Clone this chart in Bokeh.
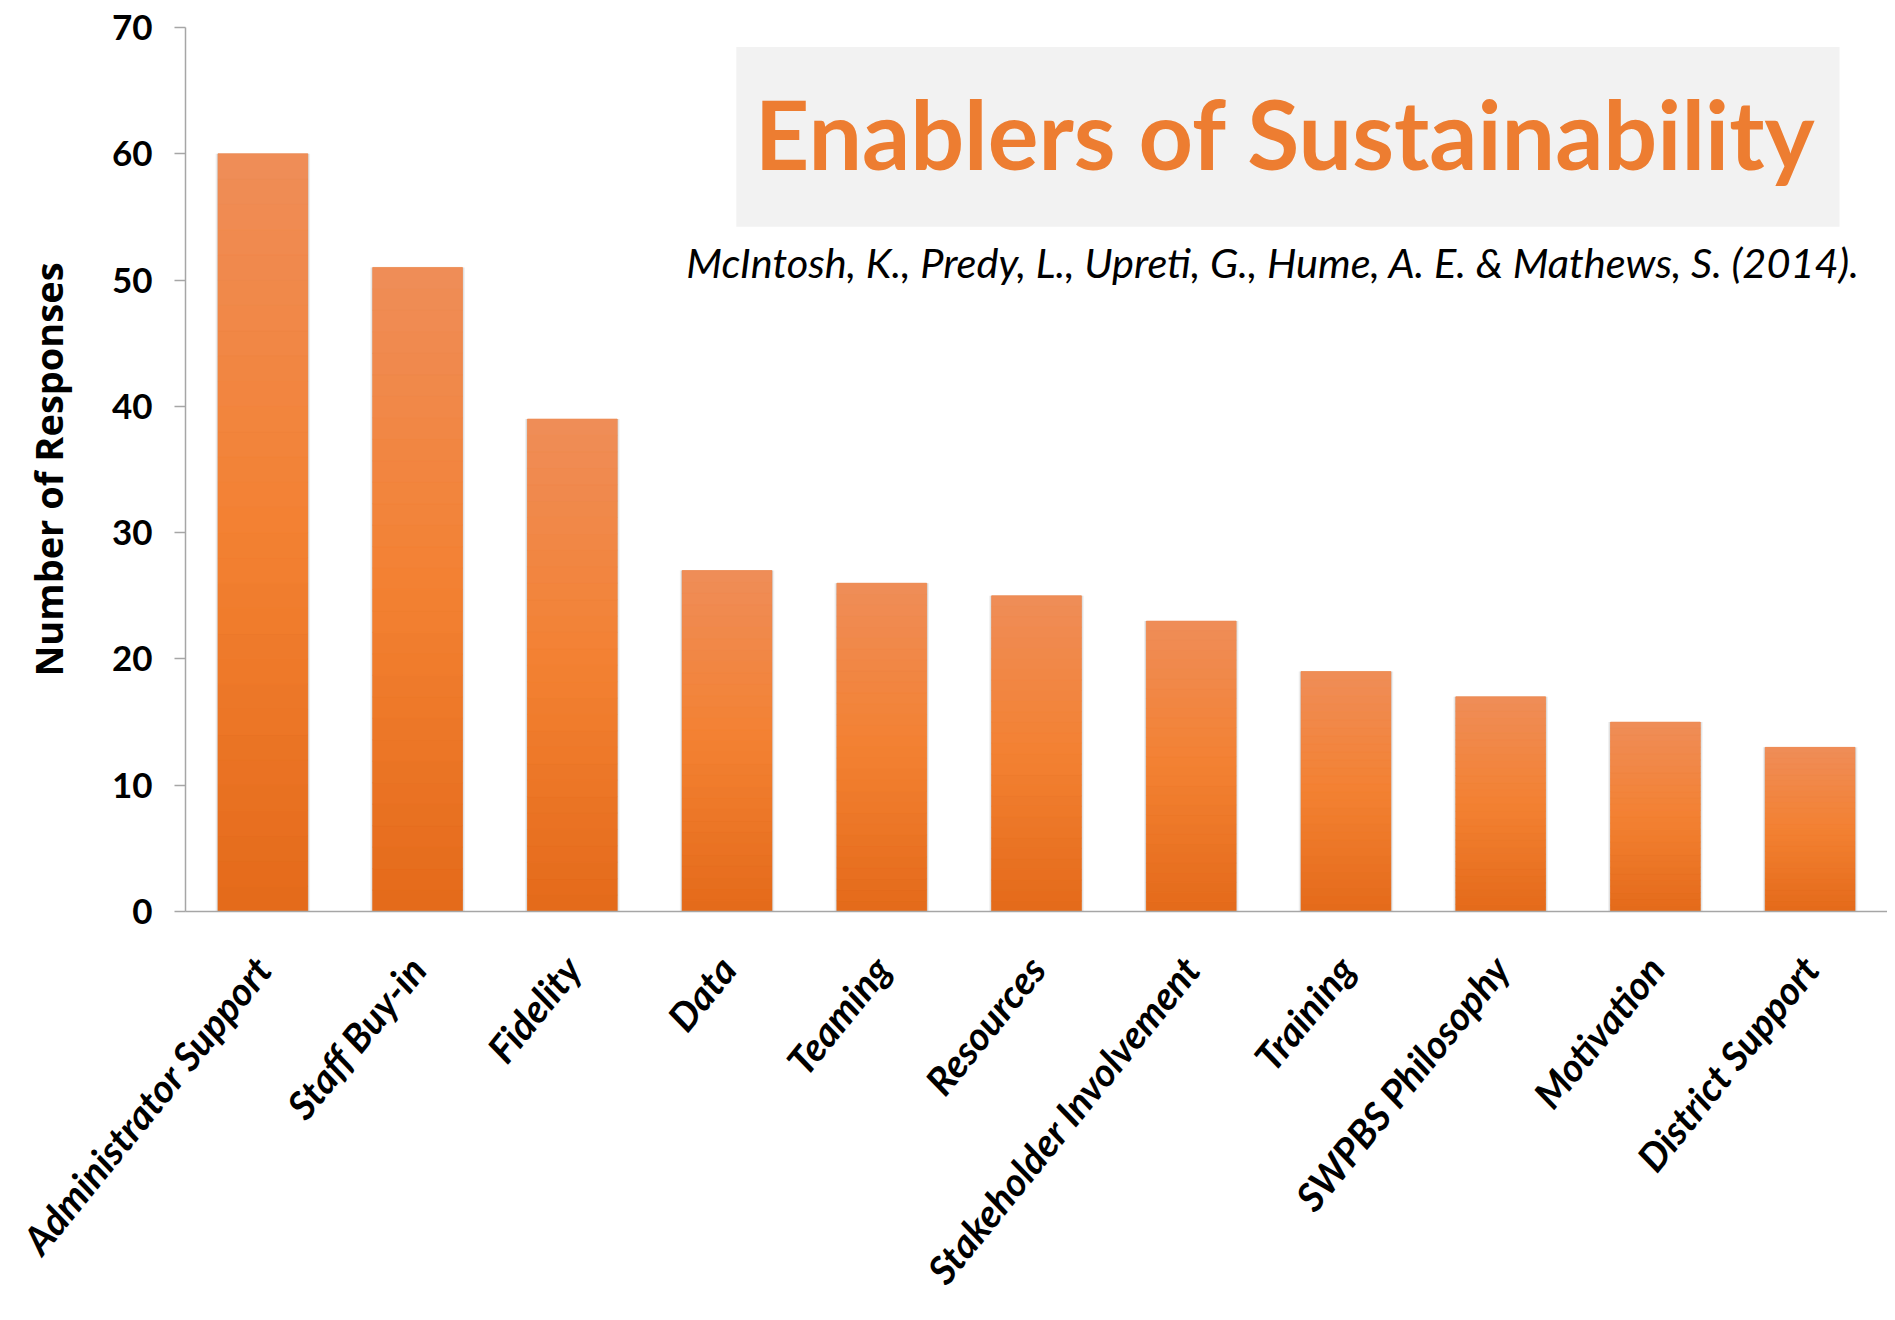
import numpy as np
from bokeh.plotting import figure
from bokeh.models import (ColumnDataSource, FixedTicker, Label, BoxAnnotation,
                          FactorRange, Range1d)
from bokeh.embed import file_html
from bokeh.resources import INLINE

# ---------------- data ----------------
categories = ["Administrator Support", "Staff Buy-in", "Fidelity", "Data", "Teaming",
              "Resources", "Stakeholder Involvement", "Training", "SWPBS Philosophy",
              "Motivation", "District Support"]
responses = [60, 51, 39, 27, 26, 25, 23, 19, 17, 15, 13]
y_ticks = [0, 10, 20, 30, 40, 50, 60, 70]
title_text = "Enablers of Sustainability"
citation_text = "McIntosh, K., Predy, L., Upreti, G., Hume, A. E. & Mathews, S. (2014)."
y_label = "Number of Responses"

# ---------------- style ----------------
BAR_W = 0.58
N_SLICES = 30
c_bottom = np.array([228, 106, 26])
c_mid = np.array([243, 129, 50])
c_top = np.array([239, 141, 88])


def grad_color(t):  # t = 0 bottom, 1 top
    if t < 0.5:
        c = c_bottom + (c_mid - c_bottom) * (t / 0.5)
    else:
        c = c_mid + (c_top - c_mid) * ((t - 0.5) / 0.5)
    return "#%02x%02x%02x" % tuple(int(round(v)) for v in c)


p = figure(x_range=FactorRange(factors=categories, range_padding=0),
           y_range=Range1d(0, 70),
           width=1887, height=1312,
           output_backend="svg", toolbar_location=None,
           min_border_left=185, min_border_right=0,
           min_border_top=27, min_border_bottom=401)
p.outline_line_color = None
p.xgrid.grid_line_color = None
p.ygrid.grid_line_color = None
p.background_fill_color = "white"
p.border_fill_color = "white"

src = ColumnDataSource(dict(cat=categories, val=responses))

# soft shadow behind bars
p.vbar(x="cat", top="val", width=BAR_W + 0.03, source=src,
       fill_color="#bdbdbd", fill_alpha=0.25, line_color=None)
p.vbar(x="cat", top="val", width=BAR_W + 0.014, source=src,
       fill_color="#a8a8a8", fill_alpha=0.35, line_color=None)

# main bars
p.vbar(x="cat", top="val", width=BAR_W, source=src,
       fill_color=grad_color(0.5), line_color=None)

# gradient overlay slices (fractions of each bar's own height)
sx, sb, st, sc = [], [], [], []
for cat, v in zip(categories, responses):
    for k in range(N_SLICES):
        sx.append(cat)
        sb.append(v * k / N_SLICES)
        st.append(v * (k + 1) / N_SLICES)
        sc.append(grad_color((k + 0.5) / N_SLICES))
p.vbar(x=sx, bottom=sb, top=st, width=BAR_W, fill_color=sc, line_color=sc,
       line_width=0.6)

# ---------------- axes ----------------
axis_col = "#a6a6a6"
yax = p.yaxis[0]
yax.ticker = FixedTicker(ticks=y_ticks)
yax.axis_line_color = axis_col
yax.axis_line_width = 1.5
yax.major_tick_line_color = axis_col
yax.major_tick_line_width = 1.5
yax.major_tick_out = 11
yax.major_tick_in = 0
yax.minor_tick_line_color = None
yax.major_label_standoff = 22
yax.major_label_text_font = "Lato"
yax.major_label_text_font_style = "bold"
yax.major_label_text_font_size = "35px"
yax.major_label_text_color = "black"
yax.axis_label = y_label
yax.axis_label_text_font = "Open Sans"
yax.axis_label_text_font_style = "bold"
yax.axis_label_text_font_size = "38px"
yax.axis_label_text_color = "black"
yax.axis_label_standoff = 35

xax = p.xaxis[0]
xax.axis_line_color = axis_col
xax.axis_line_width = 1.5
xax.major_tick_line_color = None
xax.major_tick_out = 0
xax.major_tick_in = 0
xax.minor_tick_line_color = None
xax.major_label_orientation = 0.89
xax.major_label_standoff = 50
xax.major_label_text_font = "Lato"
xax.major_label_text_font_style = "bold italic"
xax.major_label_text_font_size = "39px"
xax.major_label_text_color = "black"

# ---------------- title box & citation ----------------
p.add_layout(BoxAnnotation(left=3.56, right=10.69, bottom=54.22, top=68.46,
                           fill_color="#f2f2f2", fill_alpha=1.0, line_color=None))
p.add_layout(Label(x=7.11, y=61.63, text=title_text, text_align="center",
                   text_baseline="alphabetic", text_font="Lato",
                   text_font_style="bold", text_font_size="95px",
                   text_color="#ed7d31"))
p.add_layout(Label(x=7.03, y=51.42, text=citation_text, text_align="center",
                   text_baseline="alphabetic", text_font="Lato",
                   text_font_style="italic", text_font_size="41.5px",
                   text_color="black"))

open("out.html", "w").write(file_html(p, INLINE))
